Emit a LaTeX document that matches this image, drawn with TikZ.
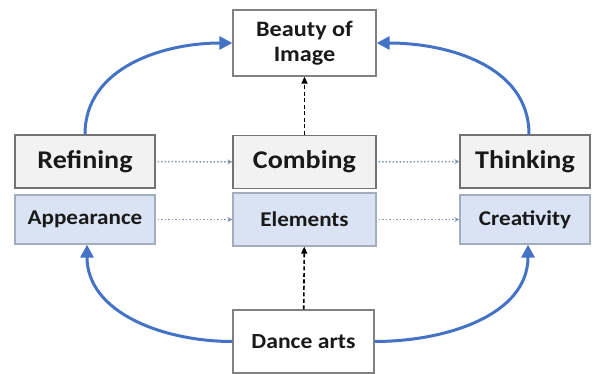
\documentclass[tikz,border=0pt]{standalone}
\usepackage{fontspec}
\setmainfont{Carlito}[FakeStretch=1.1]
\usetikzlibrary{arrows.meta}
\definecolor{curveblue}{HTML}{4472C4}
\definecolor{linkblue}{HTML}{8497B0}
\definecolor{fillgray}{HTML}{F2F2F2}
\definecolor{fillblue}{HTML}{DAE3F3}
\definecolor{edgegray}{HTML}{737373}
\definecolor{edgeblue}{HTML}{A3AEBD}

\begin{document}
\begin{tikzpicture}[x=1pt,y=1pt,
	box/.style={rectangle, draw=edgegray, line width=1.3pt, inner sep=0pt, align=center, text=black!90},
	rowbox/.style={box, fill=fillgray, minimum height=53pt, font=\bfseries\fontsize{25.5}{28}\selectfont},
	subbox/.style={box, fill=fillblue, draw=edgeblue, minimum height=49pt, font=\bfseries\fontsize{21}{24}\selectfont},
	endbox/.style={box, fill=white, draw=edgegray!90, font=\bfseries\fontsize{22}{25}\selectfont},
	link/.style={linkblue, line width=1.5pt, dotted, -{Stealth[length=5pt,width=5pt]}, shorten <=2pt},
	upline/.style={black, line width=1.6pt, dash pattern=on 4pt off 2.5pt, -{Triangle[length=7pt,width=6pt]}},
	arcline/.style={curveblue, line width=3pt, -{Triangle[length=13pt,width=13pt]}}]

\useasboundingbox (0,0) rectangle (602,-374);

\node[endbox, minimum width=143pt, minimum height=66pt] at (304.5,-43) (beauty) {Beauty of\\Image};

\node[rowbox, minimum width=140pt] at (85,-161.5) (refining) {Refining};
\node[rowbox, minimum width=143pt] at (304.5,-162) (combing) {Combing};
\node[rowbox, minimum width=130pt] at (525,-161.5) (thinking) {Thinking};

\node[subbox, minimum width=140pt] at (85,-219.5) (appearance) {Appearance};
\node[subbox, minimum width=143pt, minimum height=53pt] at (304.5,-219.5) (elements) {Elements};
\node[subbox, minimum width=130pt] at (525,-219.5) (creativity) {Creativity};

\node[endbox, font=\bfseries\fontsize{21.5}{24}\selectfont, minimum width=141pt, minimum height=63pt] at (303.5,-341.5) (dance) {Dance arts};

\draw[link] (refining) -- (combing);
\draw[link] (combing) -- (thinking);
\draw[link] (appearance) -- (elements);
\draw[link] (elements) -- (creativity);

\draw[upline] (combing) -- (beauty);
\draw[upline] (dance) -- (elements);

\draw[arcline] (refining.north) to[out=90,in=180] (beauty.west);
\draw[arcline] ([xshift=4pt]thinking.north) to[out=90,in=0] (beauty.east);
\draw[arcline] (dance.west) to[out=180,in=-90] ([xshift=2pt]appearance.south);
\draw[arcline] (dance.east) to[out=0,in=-90] ([xshift=3pt]creativity.south);
\end{tikzpicture}
\end{document}
